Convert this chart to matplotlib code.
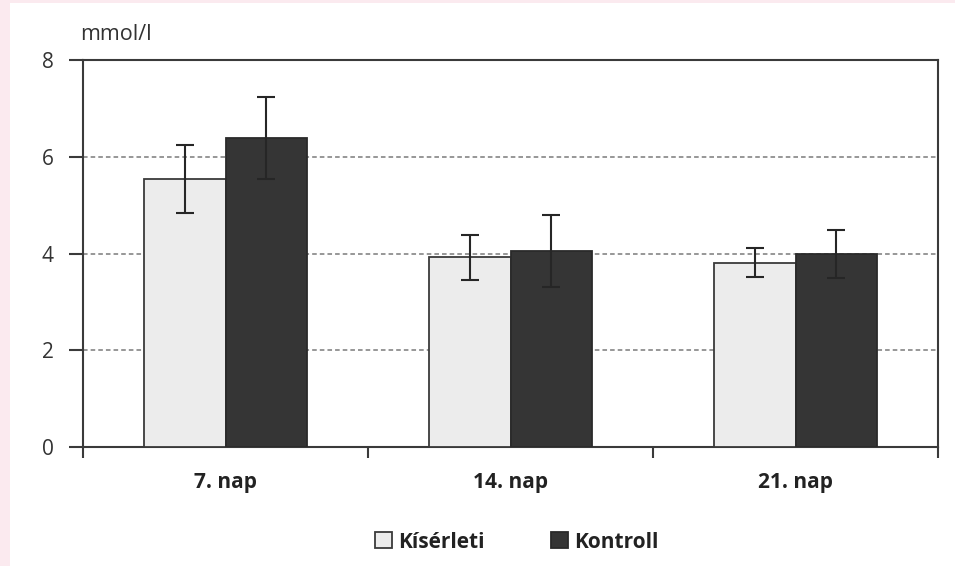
import matplotlib.pyplot as plt
import matplotlib.patches as mpatches
import numpy as np

categories = ["7. nap", "14. nap", "21. nap"]
kiserleti = [5.54, 3.92, 3.81]
kiserleti_err = [0.70, 0.46, 0.30]
kontroll = [6.39, 4.05, 3.99]
kontroll_err = [0.85, 0.75, 0.50]
y_ticks = [0, 2, 4, 6, 8]

plt.rcParams['font.family'] = ['Open Sans', 'DejaVu Sans']

fig = plt.figure(figsize=(9.55, 5.66), dpi=100, facecolor='#fbeaef')
# white panel inside the pink frame
fig.patches.append(mpatches.Rectangle((10 / 955, 0), 1, 1 - 3 / 566,
                                      transform=fig.transFigure,
                                      facecolor='white', edgecolor='none',
                                      zorder=-5))

ax = fig.add_axes([83 / 955, 1 - 447 / 566, (938 - 83) / 955, (447 - 60) / 566])
ax.set_facecolor('white')

x = np.arange(len(categories))
w = 0.285
err_kw = dict(ecolor='#262626', elinewidth=1.5, capsize=6.5, capthick=1.5, zorder=4)
ax.bar(x - w / 2, kiserleti, w, yerr=kiserleti_err, color='#ececec',
       edgecolor='#3a3a3a', linewidth=1.3, error_kw=err_kw, zorder=3,
       label='Kísérleti')
ax.bar(x + w / 2, kontroll, w, yerr=kontroll_err, color='#353535',
       edgecolor='#2a2a2a', linewidth=1.3, error_kw=err_kw, zorder=3,
       label='Kontroll')

ax.set_xlim(-0.5, len(categories) - 0.5)
ax.set_ylim(0, 8)
ax.set_yticks(y_ticks)
ax.set_yticklabels([str(v) for v in y_ticks], fontsize=15, color='#333333')
for v in y_ticks[1:-1]:
    ax.axhline(v, color='#7a7a7a', linestyle=(0, (3, 2)), linewidth=1.1, zorder=1)

# category boundaries carry the x ticks; labels sit at the centres
ax.set_xticks(np.arange(-0.5, len(categories), 1.0))
ax.set_xticklabels([])
ax.set_xticks(x, minor=True)
ax.set_xticklabels(categories, minor=True, fontsize=15, fontweight='bold',
                   color='#222222')
ax.tick_params(axis='x', which='minor', length=0, pad=18)
ax.tick_params(axis='x', which='major', length=8, width=1.5, color='#3a3a3a')
ax.tick_params(axis='y', length=10, width=1.5, color='#3a3a3a', pad=11)

for s in ax.spines.values():
    s.set_color('#3a3a3a')
    s.set_linewidth(1.5)

fig.text(80 / 955, 1 - 35 / 566, 'mmol/l', fontsize=15.5, color='#333333',
         ha='left', va='center')

leg = fig.legend(loc='center', bbox_to_anchor=(517 / 955, 1 - 542 / 566),
                 ncol=2, frameon=False, handlelength=0.8, handleheight=0.8,
                 handletextpad=0.3, columnspacing=3.2,
                 prop={'size': 15, 'weight': 'bold'})
for t in leg.get_texts():
    t.set_color('#222222')

fig.savefig('out.png', dpi=100, facecolor=fig.get_facecolor())
